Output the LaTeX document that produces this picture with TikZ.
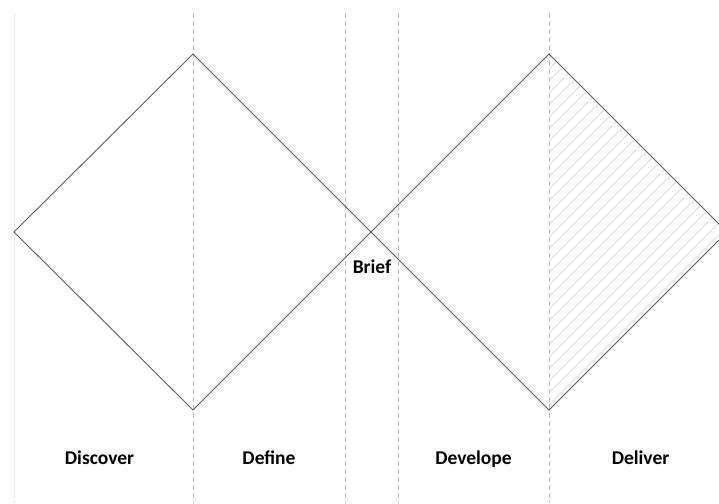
\documentclass[tikz,border=0pt]{standalone}
\usepackage{fontspec}
\setmainfont{Carlito}
\begin{document}
\begin{tikzpicture}[x=1pt,y=-1pt,
  edge/.style={draw=black!65,line width=0.9pt},
  guide/.style={draw=black!25,line width=0.8pt,dash pattern=on 5pt off 3pt},
  faintguide/.style={draw=black!10,line width=0.8pt,dash pattern=on 5pt off 3pt},
  hatchline/.style={draw=black!13,line width=0.8pt},
  lbl/.style={font=\bfseries\fontsize{19.5}{21}\selectfont,inner sep=0pt,anchor=base}]
\useasboundingbox (0,0) rectangle (719,503);
\clip (0,0) rectangle (719,503);
% guides
\draw[faintguide] (14,13) -- (14,503);
\foreach \gx in {193,345,398,549} \draw[guide] (\gx,13) -- (\gx,503);
% vertices
\coordinate (L1) at (14,232);
\coordinate (T1) at (193,54);
\coordinate (B1) at (193,410);
\coordinate (M) at (371,232);
\coordinate (T2) at (549,54);
\coordinate (B2) at (549,410);
\coordinate (R2) at (727,232);
% hatch
\begin{scope}
\clip (T2) -- (R2) -- (B2) -- cycle;
\foreach \c in {606,618,...,966} \draw[hatchline] (549,\c-549) -- (727,\c-727);
\end{scope}
% diamonds
\draw[edge,line join=miter] (L1) -- (T1) -- (M) -- (B1) -- cycle;
\draw[edge,line join=miter] (M) -- (T2) -- (R2) -- (B2) -- cycle;
% labels
\node[lbl] (brief) at (372,273) {Brief};
\node[lbl] (discover) at (99.5,464.5) {Discover};
\node[lbl] (define) at (269,464.5) {Define};
\node[lbl] (develope) at (473.5,464.5) {Develope};
\node[lbl] (deliver) at (640.5,464.5) {Deliver};
\end{tikzpicture}
\end{document}
